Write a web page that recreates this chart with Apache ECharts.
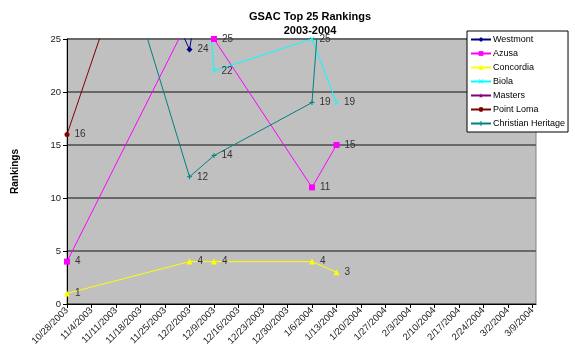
<!DOCTYPE html>
<html>
<head>
<meta charset="utf-8">
<script src="https://cdn.jsdelivr.net/npm/echarts@6/dist/echarts.min.js"></script>
<style>
  html, body { margin: 0; padding: 0; background: #fff; }
  #chart { width: 575px; height: 352px; }
</style>
</head>
<body>
<div id="chart"></div>
<script>
  // poll dates, values above 25 mean "not ranked" (drawn off the top)
  var pollDates = ['10/28/2003', '12/2/2003', '12/9/2003', '1/6/2004', '1/13/2004'];
  var westmont = [50, 24, 38, 50, 50];
  var azusa = [4, 27, 25, 11, 15];
  var concordia = [1, 4, 4, 4, 3];
  var biola = [50, 50, 22, 25, 19];
  var masters = [50, 50, 50, 50, 50];
  var pointLoma = [16, 50, 50, 50, 50];
  var christianHeritage = [50, 12, 14, 19, 50];

  var axisStart = '10/28/2003';
  var axisEnd = '3/10/2004';

  function dayNum(s) {
    var p = s.split('/');
    return Math.round((Date.UTC(+p[2], +p[0] - 1, +p[1]) - Date.UTC(2003, 9, 28)) / 864e5);
  }
  function dayLabel(v) {
    if (v % 7 !== 0) return '';
    var d = new Date(Date.UTC(2003, 9, 28) + v * 864e5);
    return (d.getUTCMonth() + 1) + '/' + d.getUTCDate() + '/' + d.getUTCFullYear();
  }
  function pts(vals) {
    return vals.map(function (v, i) { return [dayNum(pollDates[i]), v]; });
  }

  var font = 'Liberation Sans, Arial, sans-serif';
  var starPath = 'path://M5,0L6.2,3.6L10,3.6L7,5.9L8.1,9.5L5,7.3L1.9,9.5L3,5.9L0,3.6L3.8,3.6Z';
  var crossPath = 'path://M0,1L1,0L5,4L9,0L10,1L6,5L10,9L9,10L5,6L1,10L0,9L4,5Z';
  var plusPath = 'path://M4,0L6,0L6,4L10,4L10,6L6,6L6,10L4,10L4,6L0,6L0,4L4,4Z';

  function mk(name, vals, color, symbol, size) {
    return {
      name: name,
      type: 'line',
      data: pts(vals),
      symbol: symbol,
      symbolSize: size,
      clip: true,
      animation: false,
      lineStyle: { color: color, width: 1 },
      itemStyle: { color: color },
      label: {
        show: true,
        position: 'right',
        distance: 5,
        color: '#333',
        fontSize: 10,
        fontFamily: font,
        formatter: function (p) { return p.value[1] <= 25 ? p.value[1] : ''; }
      }
    };
  }

  var myChart = echarts.init(document.getElementById('chart'));
  var option = {
    backgroundColor: '#fff',
    title: {
      text: 'GSAC Top 25 Rankings\n2003-2004',
      left: 305,
      top: 5,
      textAlign: 'center',
      textStyle: { fontSize: 11, fontWeight: 'bold', color: '#000', fontFamily: font, lineHeight: 14 }
    },
    legend: {
      orient: 'vertical',
      left: 467,
      top: 31,
      padding: [4, 3, 4, 3],
      itemWidth: 20,
      itemHeight: 6,
      itemGap: 5,
      backgroundColor: '#fff',
      borderColor: '#000',
      borderWidth: 1,
      borderRadius: 0,
      textStyle: { fontSize: 9, color: '#000', fontFamily: font, padding: [0, 0, 0, -3] },
      data: ['Westmont', 'Azusa', 'Concordia', 'Biola', 'Masters', 'Point Loma', 'Christian Heritage']
    },
    grid: {
      left: 67, right: 39, top: 39, bottom: 48,
      show: true,
      backgroundColor: '#c0c0c0',
      borderColor: '#808080',
      borderWidth: 1
    },
    xAxis: {
      type: 'value',
      min: dayNum(axisStart),
      max: dayNum(axisEnd),
      interval: 7,
      splitLine: { show: false },
      axisLine: { show: true, onZero: false, lineStyle: { color: '#000', width: 1 } },
      axisTick: { show: true, length: 4, lineStyle: { color: '#000' } },
      axisLabel: {
        rotate: 45,
        margin: 5,
        fontSize: 9.5,
        color: '#222',
        fontFamily: font,
        showMaxLabel: false,
        formatter: dayLabel
      }
    },
    yAxis: {
      type: 'value',
      min: 0,
      max: 25,
      interval: 5,
      name: 'Rankings',
      nameLocation: 'middle',
      nameRotate: 90,
      nameGap: 47,
      nameTextStyle: { fontSize: 10, fontWeight: 'bold', color: '#000', fontFamily: font },
      axisLine: { show: true, lineStyle: { color: '#000', width: 1 } },
      axisTick: { show: true, length: 4, lineStyle: { color: '#000' } },
      axisLabel: { fontSize: 9.5, color: '#222', fontFamily: font, margin: 6 },
      splitLine: { show: true, lineStyle: { color: '#686868', width: 2 } }
    },
    series: [
      mk('Westmont', westmont, '#000080', 'diamond', 6),
      mk('Azusa', azusa, '#ff00ff', 'rect', 6),
      mk('Concordia', concordia, '#ffff00', 'triangle', 6),
      mk('Biola', biola, '#00ffff', crossPath, 5),
      mk('Masters', masters, '#800080', starPath, 6),
      mk('Point Loma', pointLoma, '#800000', 'circle', 5),
      mk('Christian Heritage', christianHeritage, '#008080', plusPath, 5)
    ]
  };
  myChart.setOption(option);
</script>
</body>
</html>
